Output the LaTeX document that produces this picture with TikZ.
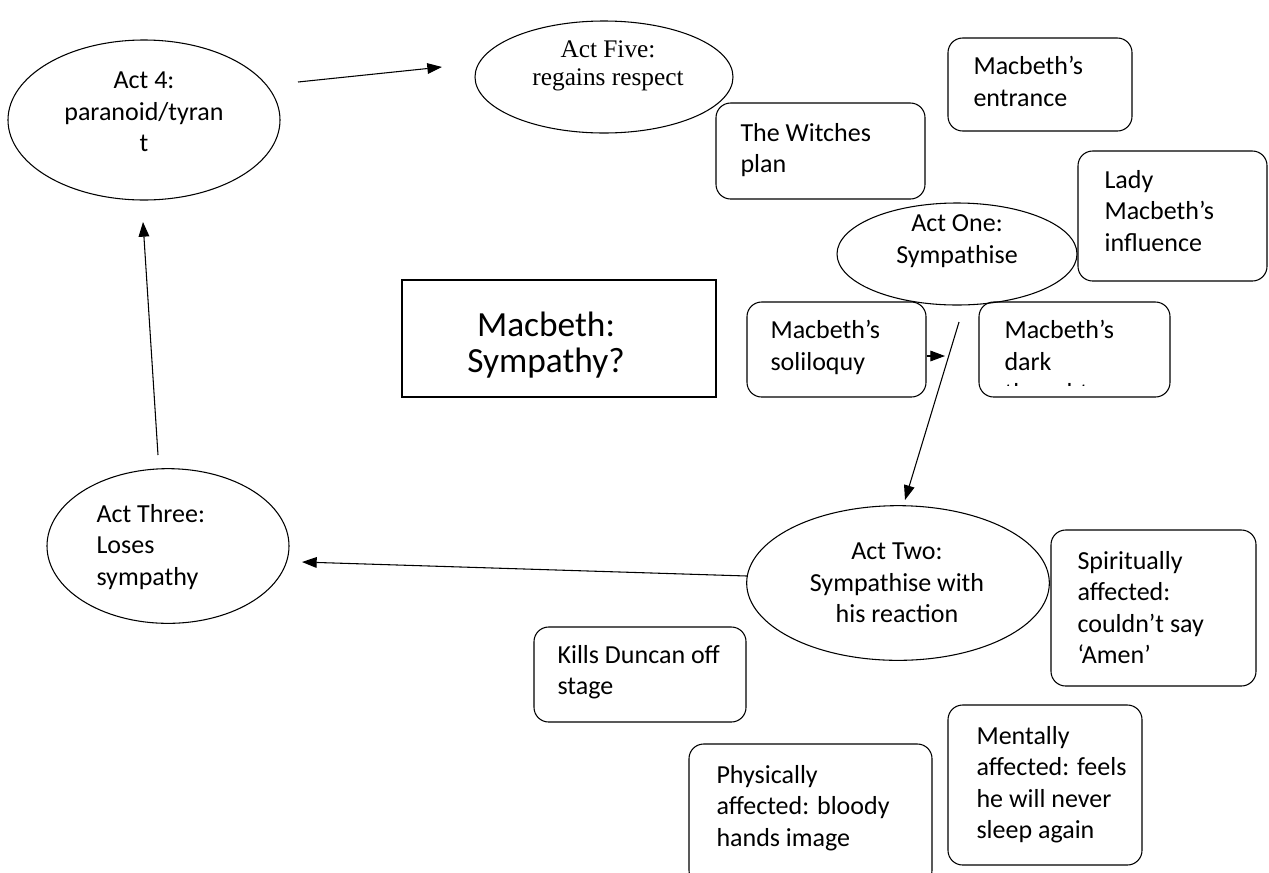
\documentclass[tikz,border=0pt]{standalone}
\usepackage{fontspec}
\setmainfont{Carlito}
\newfontfamily\serifcam{Liberation Serif}
\usetikzlibrary{shapes.geometric,arrows.meta,fit}
\begin{document}
\begin{tikzpicture}[x=0.75pt,y=-0.75pt,
  line width=0.8pt,
  rbox/.style={draw,rounded corners=11pt,inner sep=0pt},
  oval/.style={draw,ellipse,inner sep=0pt},
  sq/.style={draw,inner sep=0pt},
  txt/.style={inner sep=0pt,anchor=north west,align=left,font=\fontsize{19.5}{23.5}\selectfont},
  ctxt/.style={inner sep=0pt,align=center,font=\fontsize{19.5}{23.5}\selectfont},
  arr/.style={-{Triangle[length=11pt,width=8pt]}}
]
\useasboundingbox (0,0) rectangle (1269,872);

% ellipses
\node[oval,minimum width=204pt,minimum height=120pt] (act4) at (144,120) {};
\node[ctxt] (act4t) at (144,112) {Act 4:\\paranoid/tyran\\t};

\node[oval,minimum width=193.5pt,minimum height=84pt] (act5) at (604,77) {};
\node[ctxt,font=\serifcam\fontsize{19}{21}\selectfont] (act5t) at (608,66) {Act Five:\\regains respect};

\node[oval,minimum width=180pt,minimum height=76.5pt] (act1) at (957,254) {};
\node[ctxt] (act1t) at (957,241) {Act One:\\Sympathise};

\node[oval,minimum width=227pt,minimum height=116pt] (act2) at (898,583) {};
\node[ctxt] (act2t) at (897,583) {Act Two:\\Sympathise with\\his reaction};

\node[oval,minimum width=181.5pt,minimum height=116pt] (act3) at (168,546) {};
\node[txt,anchor=west] (act3t) at (96,547) {Act Three:\\Loses\\sympathy};

% title
\node[sq,fit={(402,280) (716,397)}] (title) {};
\node[inner sep=0pt,align=center,font=\fontsize{26.5}{26.5}\selectfont] (titlet) at (546,345) {Macbeth:\\Sympathy?};

% rounded boxes
\node[rbox,fit={(948,38) (1132,131)}] (entr) {};
\node[txt] (entrt) at (973,56) {Macbeth’s\\entrance};

\node[rbox,fit={(716,103) (925,199)}] (witch) {};
\node[txt] (witcht) at (740,123) {The Witches\\plan};

\node[rbox,fit={(1078,151) (1267,281)}] (lady) {};
\node[txt] (ladyt) at (1104,170) {Lady\\Macbeth’s\\influence};

\node[rbox,fit={(747,302) (926,397)}] (sol) {};
\node[txt] (solt) at (770,320) {Macbeth’s\\soliloquy};

\node[rbox,fit={(979,302) (1170,397)}] (dark) {};
\begin{scope}
\clip (979,302) rectangle (1170,385);
\node[txt] (darkt) at (1004,320) {Macbeth’s\\dark\\thoughts};
\end{scope}

\node[rbox,fit={(1051,530) (1256,686)}] (spirit) {};
\node[txt] (spiritt) at (1077,551) {Spiritually\\affected:\\couldn’t say\\‘Amen’};

\node[rbox,fit={(534,627) (746,722)}] (kills) {};
\node[txt] (killst) at (557,645) {Kills Duncan off\\stage};

\node[rbox,fit={(689,744) (932,885)}] (phys) {};
\node[txt] (physt) at (716,765) {Physically\\affected: bloody\\hands image};

\node[rbox,fit={(948,705) (1142,865)}] (ment) {};
\node[txt] (mentt) at (976,726) {Mentally\\affected: feels\\he will never\\sleep again};

% connectors
\coordinate (a45s) at (298,82);
\coordinate (a45e) at (442,67);
\draw[arr] (a45s) -- (a45e);

\coordinate (solarr) at (945,356);
\draw[arr] (sol.east |- solarr) -- (solarr);

\coordinate (a12s) at (959,322);
\coordinate (a12e) at (905,500);
\draw[arr] (a12s) -- (a12e);

\coordinate (a23s) at (747,576);
\coordinate (a23e) at (302,562);
\draw[arr] (a23s) -- (a23e);

\coordinate (a34s) at (158,455);
\coordinate (a34e) at (143,222);
\draw[arr] (a34s) -- (a34e);
\end{tikzpicture}
\end{document}
